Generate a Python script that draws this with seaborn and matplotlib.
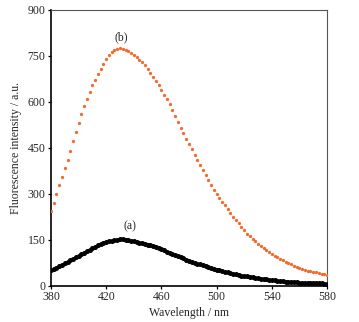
import numpy as np
import pandas as pd
import matplotlib
matplotlib.use("Agg")
import matplotlib.pyplot as plt
import seaborn as sns

# wavelength grid (nm), one reading every 2 nm
wavelength = list(range(380, 581, 2))

# curve (b), orange dots
intensity_b = [245, 272, 299, 328, 356, 384, 412, 441, 473, 503,
               532, 560, 587, 611, 634, 654, 673, 691, 709, 725,
               740, 754, 763, 768, 773, 775, 774, 771, 766, 760,
               754, 747, 738, 729, 720, 708, 696, 683, 668, 654,
               639, 623, 609, 592, 574, 555, 535, 516, 498, 480,
               462, 445, 428, 412, 394, 377, 361, 345, 329, 314,
               300, 287, 275, 263, 250, 238, 226, 215, 204, 193,
               181, 171, 162, 153, 145, 137, 130, 124, 117, 111,
               105, 99, 93, 88, 83, 78, 74, 70, 66, 62,
               58, 55, 52, 50, 48, 46, 44, 42, 40, 38, 36]

# curve (a), black
intensity_a = [52, 56, 60, 64, 69, 74, 79, 84, 88, 93,
               98, 103, 108, 113, 118, 123, 128, 132, 136, 140,
               143, 146, 148, 150, 151, 152, 152, 151, 149, 147,
               145, 143, 141, 139, 137, 135, 133, 130, 127, 124,
               120, 116, 112, 108, 104, 100, 97, 94, 90, 86,
               82, 79, 76, 73, 70, 67, 64, 61, 58, 56,
               53, 51, 49, 46, 44, 42, 40, 38, 36, 34,
               32, 31, 29, 28, 26, 25, 24, 22, 21, 20,
               19, 18, 17, 16, 15, 14, 14, 13, 12, 12,
               11, 11, 10, 10, 9, 9, 8, 8, 8, 7, 7]

x_ticks = [380, 420, 460, 500, 540, 580]
y_ticks = [0, 150, 300, 450, 600, 750, 900]

df = pd.DataFrame({"wavelength": wavelength, "a": intensity_a, "b": intensity_b})

sns.set_style("ticks")
plt.rcParams['font.family'] = ['Liberation Serif', 'DejaVu Serif']

fig = plt.figure(figsize=(3.59, 3.22), dpi=100)
ax = fig.add_axes([0.142, 0.112, 0.769, 0.857])

sns.scatterplot(data=df, x="wavelength", y="b", ax=ax, color="#f26a2c",
                s=5.5, linewidth=0, zorder=3)
sns.scatterplot(data=df, x="wavelength", y="a", ax=ax, color="black",
                s=13, linewidth=0, zorder=3)

ax.text(431, 812, "(b)", ha="center", va="center", fontsize=8.5)
ax.text(437, 193, "(a)", ha="center", va="center", fontsize=8.5)

ax.set_xlim(380, 580)
ax.set_ylim(0, 900)
ax.set_xticks(x_ticks)
ax.set_yticks(y_ticks)
ax.set_xlabel("Wavelength / nm", fontsize=8.5, labelpad=2.5)
ax.set_ylabel("Fluorescence intensity / a.u.", fontsize=8.5, labelpad=4)
ax.tick_params(labelsize=8.5, length=2.5, width=0.9, pad=1.5, color="black")

for side in ["left", "bottom"]:
    ax.spines[side].set_color("black")
    ax.spines[side].set_linewidth(1.2)
for side in ["top", "right"]:
    ax.spines[side].set_color("#555555")
    ax.spines[side].set_linewidth(0.8)

fig.savefig("out.png", dpi=100)
